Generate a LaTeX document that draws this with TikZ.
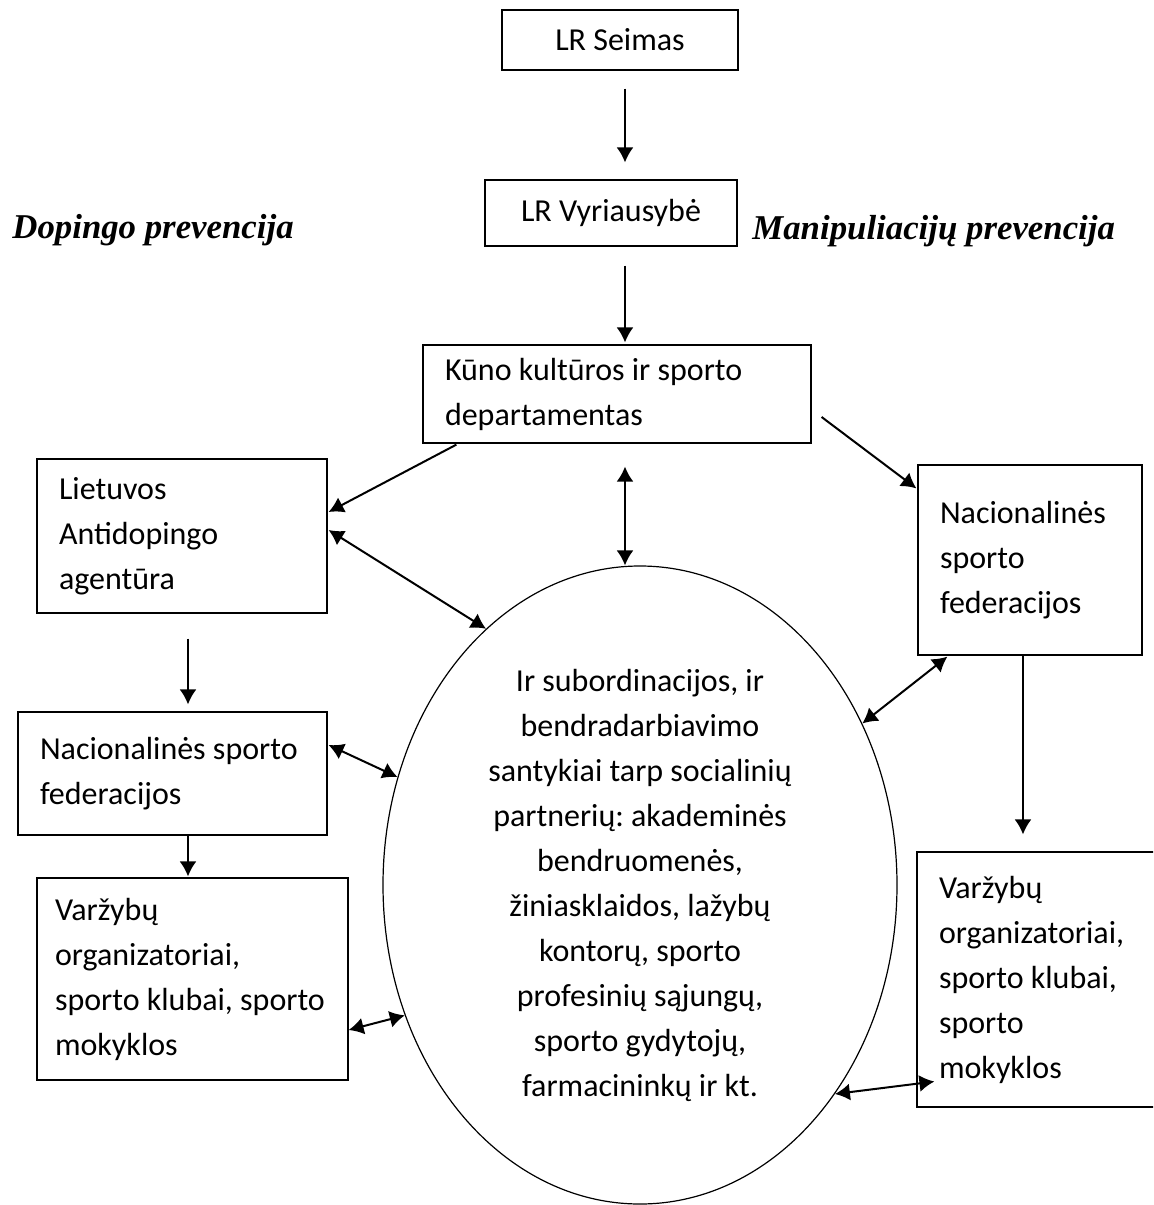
\documentclass[tikz,border=0pt]{standalone}
\usepackage{fontspec}
\setmainfont{Carlito}
\newfontfamily\headfont{Liberation Serif}
\usetikzlibrary{shapes.geometric,arrows.meta}
\frenchspacing

\begin{document}
\begin{tikzpicture}[x=.5pt,y=-.5pt,
        every node/.style={font=\fontsize{16}{22.5}\selectfont},
        box/.style={draw,semithick,align=flush left,inner xsep=11pt,inner ysep=4pt},
        oval/.style={draw,semithick,ellipse,align=center,inner sep=0pt,minimum width=257pt,minimum height=319pt},
        title/.style={anchor=base west,inner sep=0pt,font=\headfont\bfseries\itshape\fontsize{17.4}{20}\selectfont},
        arr/.style={-{Latex[length=7.5pt,width=8.5pt]},line width=1pt},
        darr/.style={{Latex[length=7.5pt,width=8.5pt]}-{Latex[length=7.5pt,width=8.5pt]},line width=1pt}]
        \useasboundingbox (0,0) rectangle (1153,1205);
        \clip (0,0) rectangle (1153,1205);

        % top of the chain
        \node[box,align=center,minimum width=118pt,minimum height=30pt] (seimas) at (620,40) {LR Seimas};
        \node[box,align=center,minimum width=126pt,minimum height=33pt] (vyr) at (611,213) {LR Vyriausybė};
        \node[box,text width=172pt,minimum height=49pt] (kksd) at (617,394) {Kūno kultūros ir sporto\\departamentas};

        \node[title] (dop) at (12,238) {Dopingo prevencija};
        \node[title] (man) at (752,239) {Manipuliacijų prevencija};

        % left side
        \node[box,text width=123pt,minimum height=77pt] (lada) at (182,536) {Lietuvos\\Antidopingo\\agentūra};
        \node[box,text width=132.5pt,minimum height=61.5pt] (nsfL) at (172.5,773.5) {Nacionalinės sporto\\federacijos};
        \node[box,inner xsep=9pt,text width=137.5pt,minimum height=101pt] (vozL) at (192.5,979) {Varžybų\\organizatoriai,\\sporto klubai, sporto\\mokyklos};

        % right side
        \node[box,text width=90pt,minimum height=95pt] (nsfR) at (1030,560) {Nacionalinės\\sporto\\federacijos};
        \node[box,text width=104.5pt,minimum height=127.5pt] (vozR) at (1043.5,979.5) {Varžybų\\organizatoriai,\\sporto klubai,\\sporto\\mokyklos};

        \node[oval] (ell) at (640,885) {Ir subordinacijos, ir\\bendradarbiavimo\\santykiai tarp socialinių\\partnerių: akademinės\\bendruomenės,\\žiniasklaidos, lažybų\\kontorų, sporto\\profesinių sąjungų,\\sporto gydytojų,\\farmacininkų ir kt.};

        \draw[arr] ([xshift=2.5pt,yshift=-9pt]seimas.south) -- ([xshift=7pt,yshift=8.5pt]vyr.north);
        \draw[arr] ([xshift=7pt,yshift=-9.5pt]vyr.south) -- ([xshift=4pt,yshift=1pt]kksd.north);
        \draw[arr] ([xshift=17pt,yshift=-.5pt]kksd.south west) -- ([xshift=.5pt,yshift=12pt]lada.east);
        \draw[arr] ([xshift=5pt,yshift=-11.5pt]kksd.east) -- ([xshift=-.5pt,yshift=-12pt]nsfR.north west);
        \draw[darr] ([xshift=4pt,yshift=-11.5pt]kksd.south) -- ([xshift=-7.5pt]ell.north);

        \draw[darr] ([xshift=.5pt,yshift=3pt]lada.east) -- (ell.121);
        \draw[arr] ([xshift=3pt,yshift=-12.5pt]lada.south) -- ([xshift=7.75pt,yshift=3.5pt]nsfL.north);
        \draw[darr] ([xshift=.5pt,yshift=14.25pt]nsfL.east) -- (ell.156);
        \draw[arr] ([xshift=7.75pt]nsfL.south) -- ([xshift=-2.25pt,yshift=.5pt]vozL.north);
        \draw[darr] ([yshift=-25.5pt]vozL.east) -- (ell.209);

        \draw[darr] (ell.36) -- ([xshift=15pt,yshift=-.5pt]nsfR.south west);
        \draw[arr] ([xshift=-3.5pt]nsfR.south) -- ([xshift=-10.25pt,yshift=8.5pt]vozR.north);
        \draw[darr] (ell.313) -- ([xshift=9pt,yshift=-51pt]vozR.west);
\end{tikzpicture}
\end{document}
